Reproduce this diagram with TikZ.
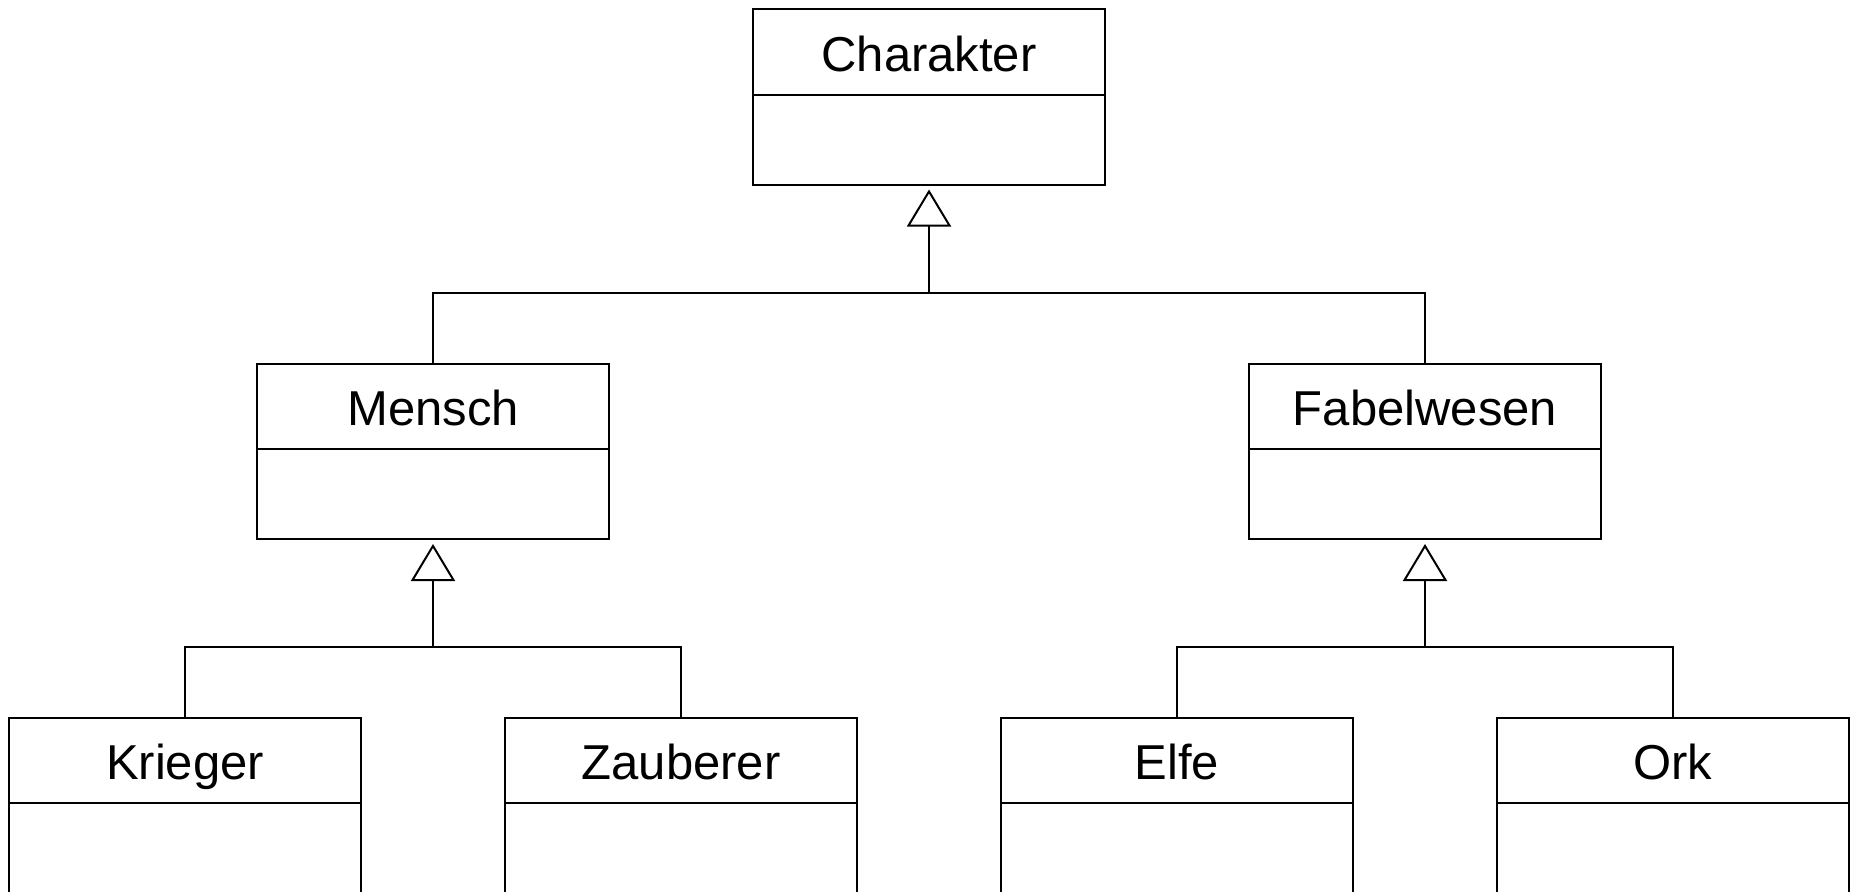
\documentclass[tikz,border=0pt]{standalone}
\usepackage{fontspec}
\setmainfont{Liberation Sans}
\usetikzlibrary{arrows.meta}
\begin{document}
\begin{tikzpicture}[x=1pt,y=-1pt,
  line width=2pt,
  clsname/.style={draw, rectangle, inner sep=0pt, outer sep=0pt,
    minimum width=352pt, minimum height=85pt,
    text height=40pt, text depth=2pt,
    font=\fontsize{49}{58}\selectfont},
  clsbody/.style={draw, rectangle, inner sep=0pt, outer sep=0pt,
    minimum width=352pt, minimum height=90pt, anchor=north},
  inherit/.style={-{Triangle[open, length=37pt, width=44pt]}, shorten >=5pt},
  link/.style={line cap=rect}
]
\useasboundingbox (0,0) rectangle (1851,891);
\clip (0,0) rectangle (1851,891);

% class boxes: name compartment and empty body compartment
\node[clsname] (char) at (929,52) {Charakter};
\node[clsbody] (charB) at (char.south) {};

\node[clsname] (mensch) at (433,406.5) {Mensch};
\node[clsbody] (menschB) at (mensch.south) {};

\node[clsname] (fabel) at (1425,406.5) {Fabelwesen};
\node[clsbody] (fabelB) at (fabel.south) {};

\node[clsname] (krieger) at (185,760.5) {Krieger};
\node[clsbody] (kriegerB) at (krieger.south) {};

\node[clsname] (zauberer) at (681,760.5) {Zauberer};
\node[clsbody] (zaubererB) at (zauberer.south) {};

\node[clsname] (elfe) at (1177,760.5) {Elfe};
\node[clsbody] (elfeB) at (elfe.south) {};

\node[clsname] (ork) at (1673,760.5) {Ork};
\node[clsbody] (orkB) at (ork.south) {};

% junction points of the generalisation trees
\coordinate (charBus) at (929,293);
\coordinate (menschBus) at (433,647);
\coordinate (fabelBus) at (1425,647);

% generalisations
\draw[inherit] (charBus) -- (charB.south);
\draw (mensch.north) |- (charBus);
\draw (fabel.north) |- (charBus);

\draw[inherit] (menschBus) -- (menschB.south);
\draw (krieger.north) |- (menschBus);
\draw (zauberer.north) |- (menschBus);

\draw[inherit] (fabelBus) -- (fabelB.south);
\draw (elfe.north) |- (fabelBus);
\draw (ork.north) |- (fabelBus);
\end{tikzpicture}
\end{document}
